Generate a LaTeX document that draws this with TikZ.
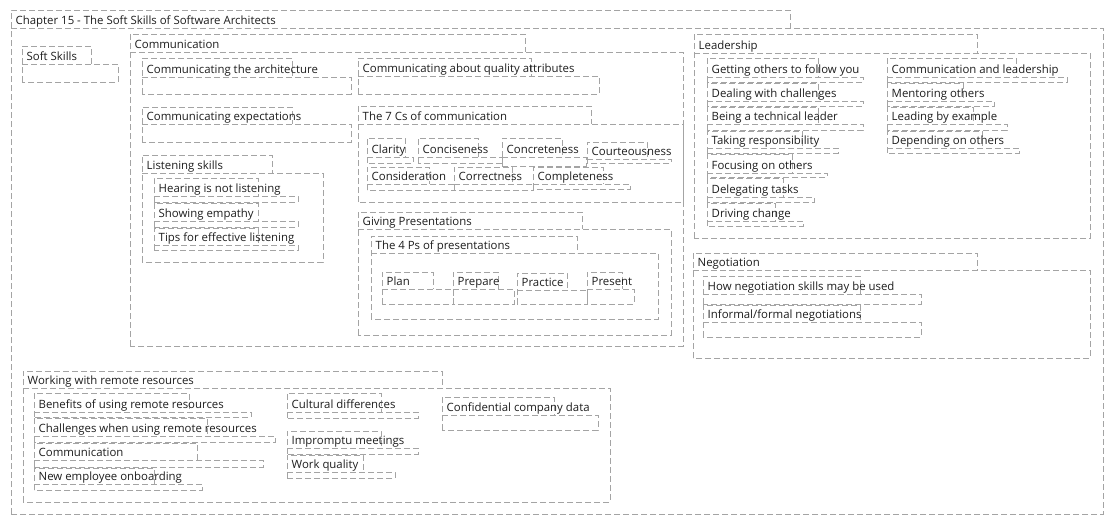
\documentclass[tikz,border=0pt]{standalone}
\usepackage{fontspec}
\setmainfont{Open Sans}
\definecolor{mmgray}{HTML}{A4A4A4}
\definecolor{mmink}{HTML}{1E1E1E}
\tikzset{
  mmline/.style={draw=mmgray, line width=0.9pt, dash pattern=on 6pt off 3pt},
  mmtext/.style={anchor=base west, inner sep=0pt, text=mmink, font=\fontsize{11.4}{13}\selectfont},
}
% #1 name, #2 left, #3 top, #4 tab right, #5 tab bottom, #6 body right, #7 bottom, #8 text
\newcommand\mmbox[8]{%
  \draw[mmline] (#2,#7) -- (#2,#3) -- (#4,#3) -- (#4,#5);
  \draw[mmline] (#2,#5) -- (#6,#5) -- (#6,#7) -- (#2,#7);
  \node[mmtext] (#1) at (#2+4.5,#5-4) {#8};
}
\begin{document}
\begin{tikzpicture}[x=1pt,y=-1pt]
\useasboundingbox (0,0) rectangle (1113,525);
\fill[white] (0,0) rectangle (1113,525);
% outer
\mmbox{chap}{11}{10}{790}{28}{1103}{514}{Chapter 15 - The Soft Skills of Software Architects}
\mmbox{soft}{22}{46}{91}{64}{118}{82}{Soft Skills}
% communication
\mmbox{comm}{130}{34}{525}{52}{683}{346}{Communication}
\mmbox{carch}{142}{58}{292}{77}{351}{94}{Communicating the architecture}
\mmbox{cexp}{142}{107}{292}{124}{351}{142}{Communicating expectations}
\mmbox{listen}{142}{155}{272}{173}{323}{262}{Listening skills}
\mmbox{hear}{154}{178}{258}{196}{298}{202}{Hearing is not listening}
\mmbox{empathy}{154}{203}{258}{221}{298}{227}{Showing empathy}
\mmbox{tips}{154}{228}{258}{245}{298}{250}{Tips for effective listening}
\mmbox{cqual}{358}{58}{531}{76}{599}{94}{Communicating about quality attributes}
\mmbox{sevenc}{358}{106}{591}{124}{683}{202}{The 7 Cs of communication}
\mmbox{clarity}{367}{138}{405}{157}{413}{163}{Clarity}
\mmbox{concise}{418}{138}{478}{157}{502}{163}{Conciseness}
\mmbox{concrete}{502}{138}{562}{157}{586}{166}{Concreteness}
\mmbox{courteous}{587}{142}{647}{159}{671}{163}{Courteousness}
\mmbox{consider}{367}{167}{429}{184}{454}{190}{Consideration}
\mmbox{correct}{454}{167}{512}{184}{533}{190}{Correctness}
\mmbox{complete}{533}{167}{603}{184}{630}{189}{Completeness}
\mmbox{giving}{358}{212}{582}{229}{671}{335}{Giving Presentations}
\mmbox{fourps}{371}{236}{577}{253}{658}{319}{The 4 Ps of presentations}
\mmbox{plan}{382}{272}{433}{289}{453}{304}{Plan}
\mmbox{prepare}{453}{272}{498}{289}{514}{304}{Prepare}
\mmbox{practice}{517}{273}{567}{290}{587}{304}{Practice}
\mmbox{present}{587}{272}{622}{289}{634}{304}{Present}
% leadership
\mmbox{lead}{694}{34}{977}{53}{1090}{238}{Leadership}
\mmbox{follow}{707}{58}{818}{77}{863}{82}{Getting others to follow you}
\mmbox{dealing}{707}{83}{818}{101}{863}{106}{Dealing with challenges}
\mmbox{techlead}{707}{107}{818}{124}{863}{130}{Being a technical leader}
\mmbox{resp}{707}{131}{802}{148}{838}{153}{Taking responsibility}
\mmbox{focus}{707}{154}{792}{173}{827}{177}{Focusing on others}
\mmbox{delegate}{707}{178}{783}{197}{814}{202}{Delegating tasks}
\mmbox{change}{707}{203}{775}{221}{803}{226}{Driving change}
\mmbox{commlead}{887}{58}{1016}{77}{1067}{82}{Communication and leadership}
\mmbox{mentor}{887}{83}{963}{101}{994}{106}{Mentoring others}
\mmbox{example}{887}{107}{973}{124}{1007}{130}{Leading by example}
\mmbox{depend}{887}{131}{982}{148}{1019}{153}{Depending on others}
% negotiation
\mmbox{nego}{693}{253}{977}{270}{1090}{358}{Negotiation}
\mmbox{negused}{703}{276}{860}{294}{921}{304}{How negotiation skills may be used}
\mmbox{informal}{703}{305}{860}{322}{921}{337}{Informal/formal negotiations}
% remote
\mmbox{remote}{23}{371}{442}{388}{610}{502}{Working with remote resources}
\mmbox{benefits}{34}{393}{189}{412}{251}{417}{Benefits of using remote resources}
\mmbox{rchall}{34}{418}{207}{436}{275}{442}{Challenges when using remote resources}
\mmbox{rcomm}{34}{443}{197}{460}{263}{467}{Communication}
\mmbox{onboard}{34}{468}{154}{484}{202}{490}{New employee onboarding}
\mmbox{cultural}{287}{393}{381}{412}{418}{418}{Cultural differences}
\mmbox{impromptu}{287}{431}{381}{448}{418}{454}{Impromptu meetings}
\mmbox{workq}{287}{455}{363}{472}{395}{478}{Work quality}
\mmbox{confid}{442}{397}{554}{415}{598}{430}{Confidential company data}
\end{tikzpicture}
\end{document}
